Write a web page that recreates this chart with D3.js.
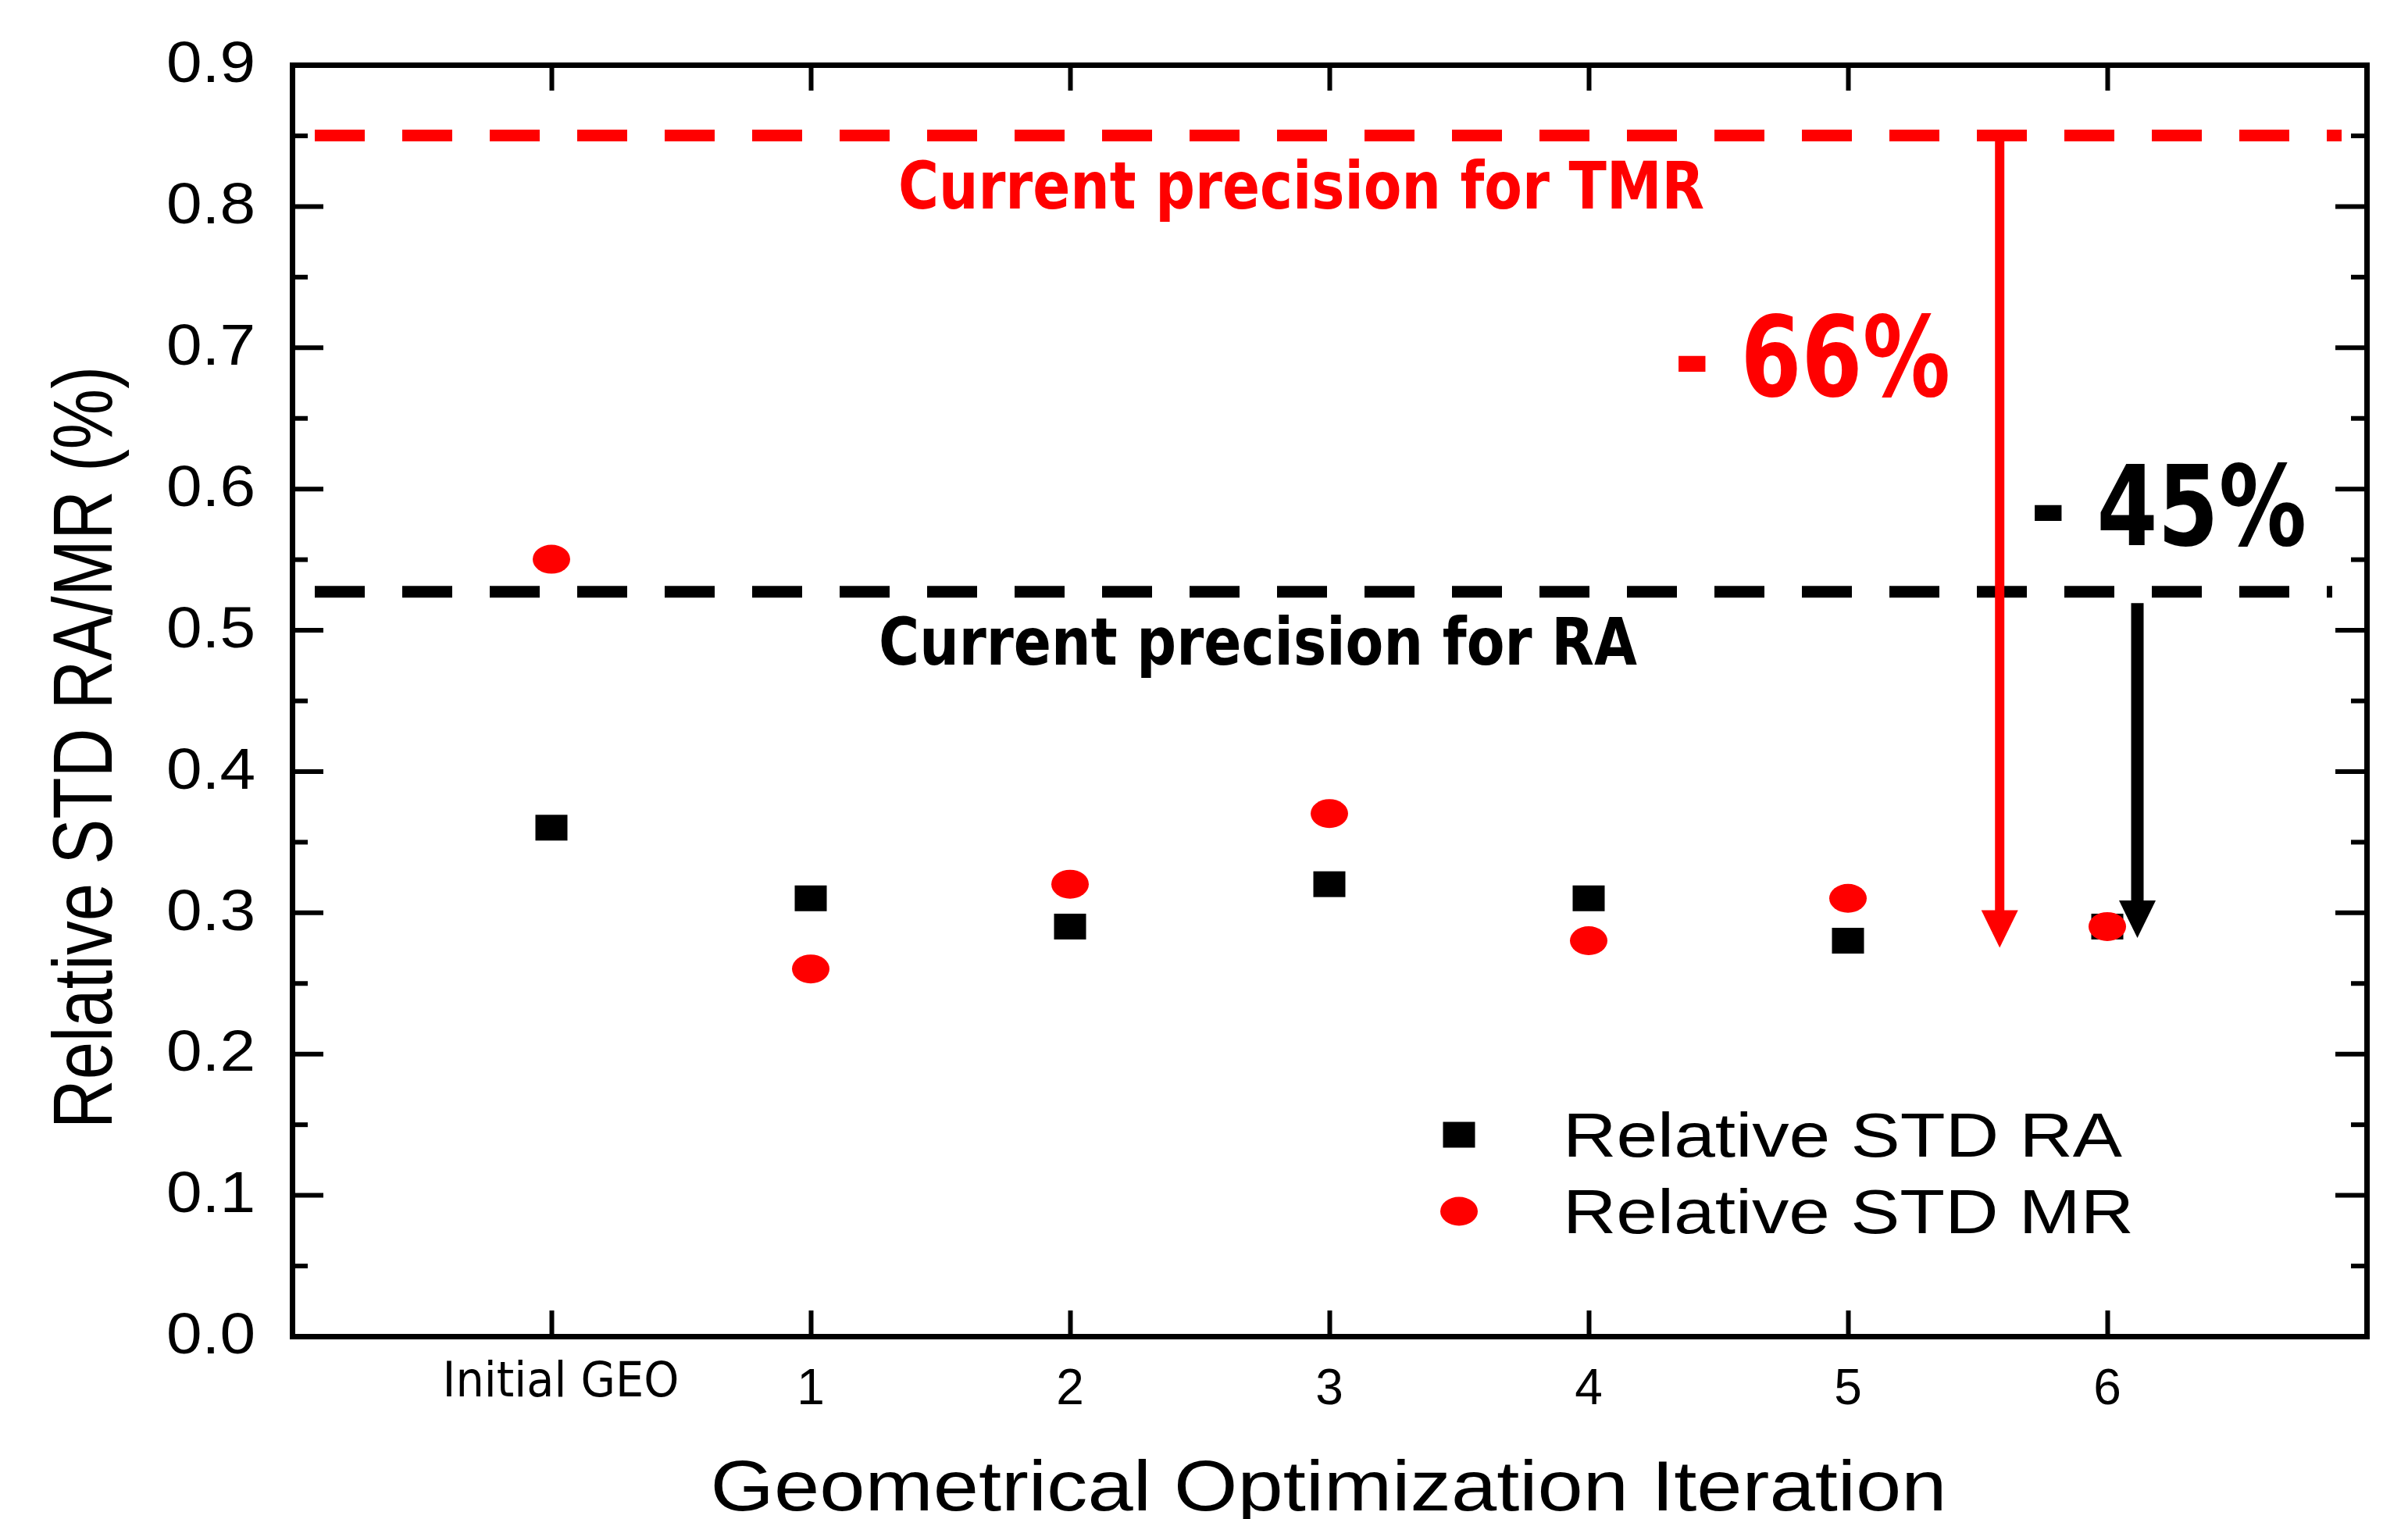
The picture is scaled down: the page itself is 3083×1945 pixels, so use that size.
<!DOCTYPE html>
<html>
<head>
<meta charset="utf-8">
<script src="https://cdn.jsdelivr.net/npm/d3@7"></script>
<style>
  html, body { margin: 0; padding: 0; background: #fff; }
  svg { display: block; }
</style>
</head>
<body>
<svg id="chart" width="3083" height="1945"></svg>
<script>
// ---------------- data ----------------
const categories = ["Initial GEO", "1", "2", "3", "4", "5", "6"];
const categoryIndex = [0, 1, 2, 3, 4, 5, 6];
const stdRA = [0.36, 0.31, 0.29, 0.32, 0.31, 0.28, 0.29];
const stdMR = [0.55, 0.26, 0.32, 0.37, 0.28, 0.31, 0.29];
const yTicks = [0.0, 0.1, 0.2, 0.3, 0.4, 0.5, 0.6, 0.7, 0.8, 0.9];
const yMinorTicks = [0.05, 0.15, 0.25, 0.35, 0.45, 0.55, 0.65, 0.75, 0.85];
const seriesNames = ["Relative STD RA", "Relative STD MR"];
const refLevels = [
  { value: 0.85, label: "Current precision for TMR", color: "#ff0000" },
  { value: 0.527, label: "Current precision for RA", color: "#000000" }
];
const reductions = [
  { label: "- 66%", from: 0.85, to: 0.275, x: 5.585, color: "#ff0000" },
  { label: "- 45%", from: 0.519, to: 0.282, x: 6.116, color: "#000000" }
];
const xTitle = "Geometrical Optimization Iteration";
const yTitle = "Relative STD RA/MR (%)";

// ---------------- layout ----------------
const L = 374, R = 3030, T = 83, B = 1711;
const svg = d3.select("#chart");
const x = d3.scaleLinear().domain([-1, 7]).range([L, R]);
const y = d3.scaleLinear().domain([0, 0.9]).range([B, T]);

const g = svg.append("g");
function styleAxis(sel) {
  sel.selectAll("path").attr("stroke", "#000").attr("stroke-width", 7).attr("stroke-linecap", "square");
  sel.selectAll("line").attr("stroke", "#000").attr("stroke-width", 6);
}
// left
const leftMajor = g.append("g").attr("transform", `translate(${L},0)`)
  .call(d3.axisRight(y).tickValues(yTicks).tickSize(40).tickSizeOuter(0).tickFormat(""));
styleAxis(leftMajor);
const leftMinor = g.append("g").attr("transform", `translate(${L},0)`)
  .call(d3.axisRight(y).tickValues(yMinorTicks).tickSize(20).tickSizeOuter(0).tickFormat(""));
styleAxis(leftMinor); leftMinor.select("path").remove();
// right
const rightMajor = g.append("g").attr("transform", `translate(${R},0)`)
  .call(d3.axisLeft(y).tickValues(yTicks).tickSize(40).tickSizeOuter(0).tickFormat(""));
styleAxis(rightMajor);
const rightMinor = g.append("g").attr("transform", `translate(${R},0)`)
  .call(d3.axisLeft(y).tickValues(yMinorTicks).tickSize(20).tickSizeOuter(0).tickFormat(""));
styleAxis(rightMinor); rightMinor.select("path").remove();
// bottom
const bottomAx = g.append("g").attr("transform", `translate(0,${B})`)
  .call(d3.axisTop(x).tickValues(categoryIndex).tickSize(33).tickSizeOuter(0).tickFormat(""));
styleAxis(bottomAx);
// top
const topAx = g.append("g").attr("transform", `translate(0,${T})`)
  .call(d3.axisBottom(x).tickValues(categoryIndex).tickSize(33).tickSizeOuter(0).tickFormat(""));
styleAxis(topAx);

// y tick labels
svg.append("g").selectAll("text").data(yTicks).join("text")
  .attr("x", 327).attr("y", d => y(d))
  .attr("dy", "0.3em")
  .attr("text-anchor", "end")
  .attr("font-family", "Liberation Sans, Arial, sans-serif")
  .attr("font-size", 74)
  .attr("textLength", 114).attr("lengthAdjust", "spacingAndGlyphs")
  .text(d => d.toFixed(1));

// x tick labels
svg.append("g").selectAll("text").data(categoryIndex).join("text")
  .attr("x", d => d === 0 ? 718 : x(d))
  .attr("y", d => d === 0 ? 1788 : 1798)
  .attr("text-anchor", "middle")
  .attr("font-family", d => d === 0 ? "DejaVu Sans, sans-serif" : "Liberation Sans, Arial, sans-serif")
  .attr("font-size", d => d === 0 ? 63 : 64)
  .each(function(d) { if (d === 0) d3.select(this).attr("textLength", 303).attr("lengthAdjust", "spacingAndGlyphs"); })
  .text(d => categories[d]);

// axis titles
svg.append("text")
  .attr("x", 1701).attr("y", 1934)
  .attr("text-anchor", "middle")
  .attr("font-family", "Liberation Sans, Arial, sans-serif")
  .attr("font-size", 90)
  .attr("textLength", 1583).attr("lengthAdjust", "spacingAndGlyphs")
  .text(xTitle);
svg.append("text")
  .attr("transform", "translate(143,957) scale(1.24,1) rotate(-90)")
  .attr("text-anchor", "middle")
  .attr("font-family", "Liberation Sans, Arial, sans-serif")
  .attr("font-size", 87)
  .text(yTitle);

// reference dashed lines
const refEnds = [2998, 2986];
svg.append("g").selectAll("line").data(refLevels).join("line")
  .attr("x1", 403).attr("x2", (d, i) => refEnds[i])
  .attr("y1", d => y(d.value)).attr("y2", d => y(d.value))
  .attr("stroke", d => d.color).attr("stroke-width", 15)
  .attr("stroke-dasharray", "64,48");

// reference labels
const refLabelPos = [{ x: 1150, y: 267, w: 1032 }, { x: 1125, y: 851, w: 971 }];
svg.append("g").selectAll("text").data(refLevels).join("text")
  .attr("x", (d, i) => refLabelPos[i].x).attr("y", (d, i) => refLabelPos[i].y)
  .attr("fill", d => d.color)
  .attr("font-family", "DejaVu Sans, sans-serif").attr("font-weight", "bold")
  .attr("font-size", 84)
  .attr("textLength", (d, i) => refLabelPos[i].w).attr("lengthAdjust", "spacingAndGlyphs")
  .text(d => d.label);

// arrows
const shaftW = [12, 16], headW = 47, headL = 48;
const ag = svg.append("g");
reductions.forEach((r, i) => {
  const cx = x(r.x), y0 = y(r.from), y1 = y(r.to);
  ag.append("line").attr("x1", cx).attr("x2", cx).attr("y1", y0).attr("y2", y1 - headL + 2)
    .attr("stroke", r.color).attr("stroke-width", shaftW[i]);
  ag.append("path")
    .attr("d", `M${cx - headW / 2},${y1 - headL} L${cx + headW / 2},${y1 - headL} L${cx},${y1} Z`)
    .attr("fill", r.color);
});
// reduction labels
const redLabelPos = [{ x: 2143, y: 507, w: 354 }, { x: 2599, y: 698, w: 354 }];
svg.append("g").selectAll("text").data(reductions).join("text")
  .attr("x", (d, i) => redLabelPos[i].x).attr("y", (d, i) => redLabelPos[i].y)
  .attr("fill", d => d.color)
  .attr("font-family", "DejaVu Sans, sans-serif").attr("font-weight", "bold")
  .attr("font-size", 143)
  .attr("textLength", (d, i) => redLabelPos[i].w).attr("lengthAdjust", "spacingAndGlyphs")
  .text(d => d.label);

// data points
const SQW = 41, SQH = 33, ERX = 24, ERY = 18.5;
svg.append("g").selectAll("rect").data(categoryIndex).join("rect")
  .attr("x", d => x(d) - SQW / 2).attr("y", d => y(stdRA[d]) - SQH / 2)
  .attr("width", SQW).attr("height", SQH).attr("fill", "#000");
svg.append("g").selectAll("ellipse").data(categoryIndex).join("ellipse")
  .attr("cx", d => x(d)).attr("cy", d => y(stdMR[d]))
  .attr("rx", ERX).attr("ry", ERY).attr("fill", "#ff0000");

// legend
const legY = [1453, 1551];
const lg = svg.append("g");
lg.append("rect").attr("x", 1868 - SQW / 2).attr("y", legY[0] - SQH / 2)
  .attr("width", SQW).attr("height", SQH).attr("fill", "#000");
lg.append("ellipse").attr("cx", 1868).attr("cy", legY[1]).attr("rx", ERX).attr("ry", ERY).attr("fill", "#ff0000");
const legW = [716, 731];
lg.selectAll("text").data(seriesNames).join("text")
  .attr("x", 2001).attr("y", (d, i) => legY[i] + 28)
  .attr("font-family", "Liberation Sans, Arial, sans-serif")
  .attr("font-size", 80)
  .attr("textLength", (d, i) => legW[i]).attr("lengthAdjust", "spacingAndGlyphs")
  .text(d => d);
</script>
</body>
</html>
